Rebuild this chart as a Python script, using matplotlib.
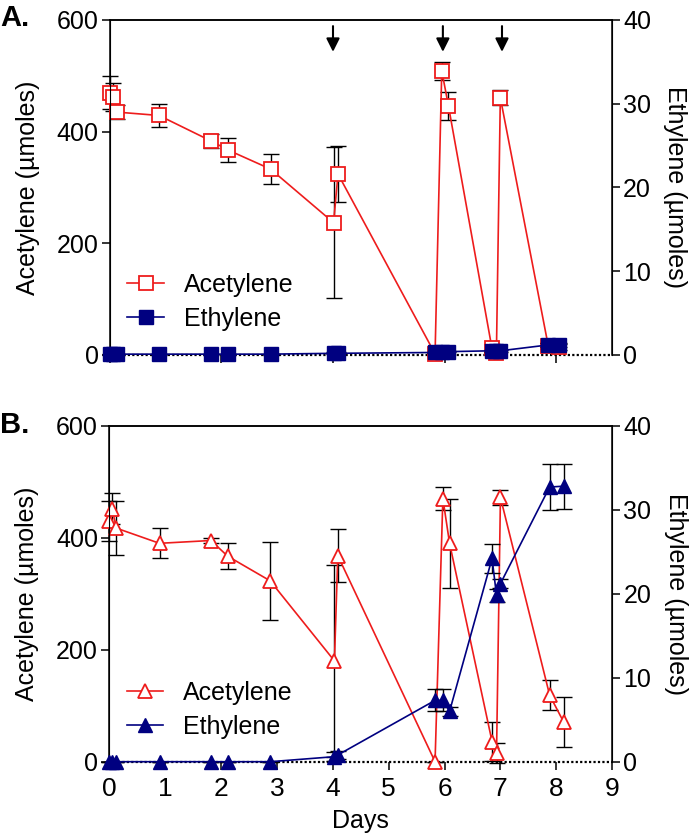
import matplotlib.pyplot as plt
from matplotlib.lines import Line2D

plt.rcParams['font.family'] = ['Liberation Sans', 'DejaVu Sans']

# panel A (squares)
days_a = [0.0, 0.05, 0.13, 0.88, 1.82, 2.12, 2.88, 4.01, 4.09, 5.83, 5.95, 6.07, 6.85, 6.93, 7.0, 7.86, 8.05]
acet_a = [470, 462, 435, 429, 383, 367, 333, 237, 324, 2, 509, 446, 12, 4, 461, 16, 14]
acet_a_err = [30, 25, 12, 21, 12, 21, 27, 135, 50, 3, 16, 25, 8, 3, 13, 5, 5]
eth_a = [0.1, 0.1, 0.1, 0.1, 0.1, 0.1, 0.1, 0.2, 0.2, 0.3, 0.4, 0.4, 0.5, 0.5, 0.5, 1.2, 1.2]
eth_a_err = [0.05, 0.05, 0.05, 0.05, 0.05, 0.05, 0.05, 0.1, 0.1, 0.1, 0.1, 0.1, 0.1, 0.1, 0.1, 0.2, 0.2]

# panel B (triangles)
days_b = [0.0, 0.05, 0.13, 0.9, 1.82, 2.12, 2.88, 4.03, 4.09, 5.83, 5.97, 6.09, 6.85, 6.93, 7.0, 7.88, 8.13]
acet_b = [430, 452, 417, 390, 395, 367, 323, 180, 368, 0, 470, 390, 36, 15, 472, 119, 71]
acet_b_err = [35, 28, 48, 27, 4, 23, 70, 171, 47, 0, 20, 80, 35, 18, 13, 27, 45]
eth_b = [0, 0, 0, 0, 0, 0, 0, 0.6, 0.8, 7.3, 7.3, 6.0, 24.2, 19.8, 21.2, 32.7, 32.8]
eth_b_err = [0, 0, 0, 0, 0, 0, 0, 0.5, 0.5, 1.3, 1.3, 0.5, 1.7, 0.8, 0.5, 2.7, 2.7]

arrow_days = [4.0, 5.97, 7.03]

red = '#ee1c1c'
navy = '#000080'

fig = plt.figure(figsize=(7, 8.4), dpi=100)
ax1 = fig.add_axes([0.157, 0.5774, 0.7171, 0.3988])
ax2 = fig.add_axes([0.156, 0.0932, 0.7186, 0.4])


def panel(ax, days, acet, acet_err, eth, eth_err, marker, show_days, leg_y):
    ax.errorbar(days, acet, yerr=acet_err, fmt='none', ecolor='k', elinewidth=1,
                capsize=5.5, capthick=1, zorder=2, clip_on=False)
    ax.plot(days, acet, color=red, lw=1.2, marker=marker, ms=10, mfc='white',
            mec=red, mew=1.3, zorder=3, clip_on=False)
    ax.set_ylim(0, 600)
    ax.set_xlim(0, 9)
    ax.set_yticks([0, 200, 400, 600])
    ax.axhline(0, color='k', lw=1.6, linestyle=(0, (1, 1)), zorder=1, clip_on=False)
    ax.spines['bottom'].set_visible(False)
    for s in ['left', 'top']:
        ax.spines[s].set_linewidth(1.1)
    ax.tick_params(axis='y', direction='out', length=6, width=1.1, labelsize=18, pad=2)
    ax.tick_params(axis='x', direction='out', length=6, width=1.1, labelsize=19, pad=5)
    if show_days:
        ax.set_xticks(range(10))
        ax.set_xlabel('Days', fontsize=18, labelpad=6)
    else:
        ax.set_xticks([0, 2, 4, 6, 8])
        ax.set_xticklabels([])
    ax.set_ylabel('Acetylene (µmoles)', fontsize=18)
    ax.yaxis.set_label_coords(-0.14, 0.5)

    tx = ax.twinx()
    tx.errorbar(days, eth, yerr=eth_err, fmt='none', ecolor='k', elinewidth=1,
                capsize=5.5, capthick=1, zorder=2, clip_on=False)
    tx.plot(days, eth, color=navy, lw=1.2, marker=marker, ms=10, mfc=navy,
            mec=navy, zorder=3, clip_on=False)
    tx.set_ylim(0, 40)
    tx.set_yticks([0, 10, 20, 30, 40])
    tx.spines['bottom'].set_visible(False)
    tx.spines['right'].set_linewidth(1.1)
    tx.spines['top'].set_linewidth(1.1)
    tx.tick_params(axis='y', direction='out', length=6, width=1.1, labelsize=18, pad=2)
    tx.set_ylabel('Ethylene (µmoles)', fontsize=18, rotation=-90)
    tx.yaxis.set_label_coords(1.15, 0.5)

    handles = [
        Line2D([], [], color=red, lw=1.2, marker=marker, ms=10, mfc='white', mec=red, mew=1.3),
        Line2D([], [], color=navy, lw=1.2, marker=marker, ms=10, mfc=navy, mec=navy),
    ]
    tx.legend(handles, ['Acetylene', 'Ethylene'], loc='lower left', bbox_to_anchor=(0.0, leg_y),
              frameon=False, fontsize=18, handlelength=1.45, handletextpad=0.8,
              labelspacing=0.4, borderaxespad=0.3)
    return tx


panel(ax1, days_a, acet_a, acet_a_err, eth_a, eth_a_err, 's', False, 0.02)
panel(ax2, days_b, acet_b, acet_b_err, eth_b, eth_b_err, '^', True, 0.015)

for d in arrow_days:
    ax1.annotate('', xy=(d, 538), xytext=(d, 594),
                 arrowprops=dict(arrowstyle='-|>', color='k', lw=1.5, mutation_scale=20))

fig.text(0.0, 0.978, 'A.', fontsize=21, fontweight='bold', va='center', ha='left')
fig.text(0.0, 0.494, 'B.', fontsize=21, fontweight='bold', va='center', ha='left')

fig.savefig('out.png', dpi=100)
